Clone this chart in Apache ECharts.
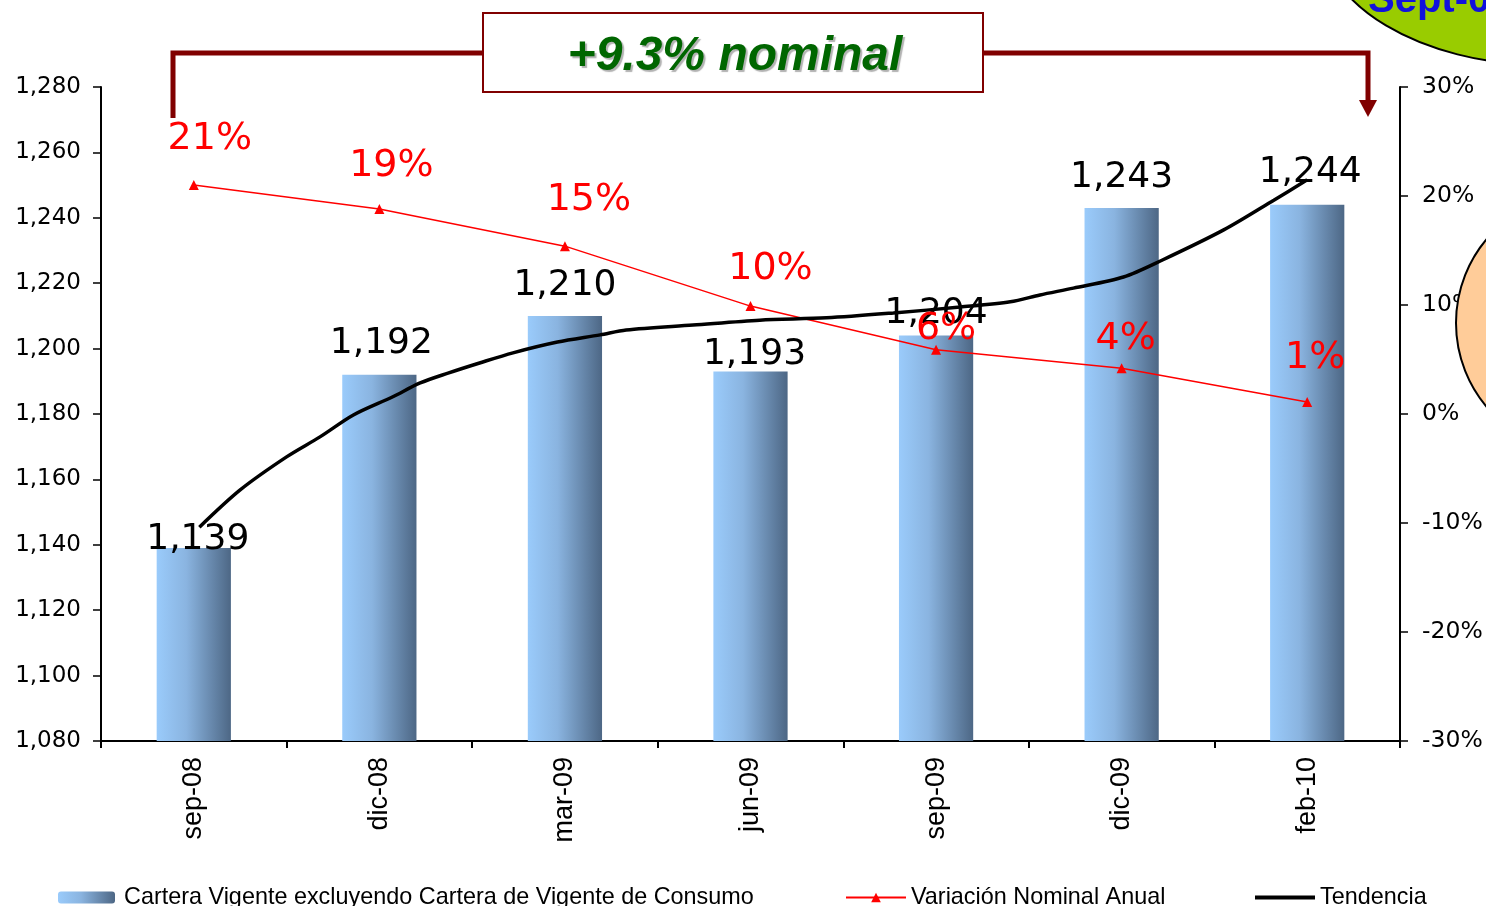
<!DOCTYPE html>
<html>
<head>
<meta charset="utf-8">
<title>Cartera Vigente</title>
<script src="https://cdn.jsdelivr.net/npm/echarts@6/dist/echarts.min.js"></script>
<style>
  html, body { margin: 0; padding: 0; background: #fff; }
  #main { width: 1486px; height: 906px; }
</style>
</head>
<body>
<div id="main"></div>
<script>
// periodos
var categories = ['sep-08', 'dic-08', 'mar-09', 'jun-09', 'sep-09', 'dic-09', 'feb-10'];
// cartera vigente (barras)
var carteraValues = [1139, 1192, 1210, 1193, 1204, 1243, 1244];
// variacion nominal anual (%)
var variacionValues = [21.0, 18.8, 15.4, 9.9, 5.9, 4.2, 1.1];
// tendencia: posicion en el eje (indice de periodo) y valor
var tendenciaX = [0.03, 0.25, 0.50, 0.68, 0.86, 1.07, 1.22, 1.37, 1.54, 1.72, 1.96, 2.19, 2.33, 2.69, 3.05, 3.41, 3.77, 4.13, 4.40, 4.56, 4.74, 5.01, 5.22, 5.55, 5.82, 6.00];
var tendenciaY = [1145.4, 1156.8, 1166.9, 1173.0, 1179.7, 1185.2, 1189.5, 1192.5, 1195.6, 1198.7, 1202.0, 1204.2, 1205.7, 1207.2, 1208.7, 1209.4, 1210.9, 1212.7, 1214.3, 1216.4, 1218.5, 1221.9, 1227.1, 1236.3, 1245.4, 1251.6];
// ejes
var leftMin = 1080, leftMax = 1280, leftStep = 20;
var rightMin = -30, rightMax = 30, rightStep = 10;
var legendNames = ['Cartera Vigente excluyendo Cartera de Vigente de Consumo', 'Variación Nominal Anual', 'Tendencia'];

// ajustes de etiquetas (solo estilo)
var barLabelNudge = [[4, 15], [2, -8], [0, -7], [4, 6], [0, 1], [0, -7], [3, -9]];
var pctLabelNudge = [[16, -17], [12, -14], [24, -17], [20, -8], [10, 8], [4, 0], [8, -15]];

var numFont = 'DejaVu Sans';
var txtFont = 'Liberation Sans';
var darkRed = '#800000';

function miles(v) {
    return String(v).replace(/\B(?=(\d{3})+(?!\d))/g, ',');
}

function barGradient() {
    return new echarts.graphic.LinearGradient(0, 0, 1, 0, [
        { offset: 0, color: '#9acbfb' },
        { offset: 0.4, color: '#8ab4e0' },
        { offset: 1, color: '#4d6785' }
    ]);
}

var chart = echarts.init(document.getElementById('main'));

var barData = [];
for (var i = 0; i < carteraValues.length; i++) {
    barData.push({ value: carteraValues[i], label: { offset: barLabelNudge[i] } });
}
var pctData = [];
for (var j = 0; j < variacionValues.length; j++) {
    pctData.push({ value: variacionValues[j], label: { offset: pctLabelNudge[j] } });
}
var trendData = [];
for (var k = 0; k < tendenciaX.length; k++) {
    trendData.push([tendenciaX[k], tendenciaY[k]]);
}

function legendText(gap) {
    return { fontFamily: txtFont, fontSize: 23.4, color: '#000', padding: [0, 0, 0, gap] };
}

var option = {
    backgroundColor: '#fff',
    animation: false,
    grid: { left: 101, right: 86, top: 87, bottom: 165 },
    legend: [
        {
            data: [legendNames[0]], left: 53, top: 881,
            itemWidth: 57, itemHeight: 12,
            textStyle: legendText(4)
        },
        {
            data: [legendNames[1]], left: 840, top: 881,
            itemWidth: 60, itemHeight: 12,
            textStyle: legendText(0)
        },
        {
            data: [{ name: legendNames[2], icon: 'rect' }], left: 1250, top: 881,
            itemWidth: 60, itemHeight: 4,
            textStyle: legendText(0)
        }
    ],
    xAxis: [
        {
            type: 'category',
            data: categories,
            axisLine: { onZero: false, lineStyle: { color: '#000', width: 2 } },
            axisTick: { show: true, length: 7, lineStyle: { color: '#000', width: 2 } },
            axisLabel: {
                rotate: 90, margin: 16, color: '#000',
                fontFamily: txtFont, fontSize: 27
            }
        },
        {
            type: 'value', min: -0.5, max: 6.5, show: false,
            axisLine: { onZero: false }
        }
    ],
    yAxis: [
        {
            type: 'value',
            min: leftMin, max: leftMax, interval: leftStep,
            splitLine: { show: false },
            axisLine: { show: true, onZero: false, lineStyle: { color: '#000', width: 2 } },
            axisTick: { show: true, length: 8, lineStyle: { color: '#000', width: 1.5 } },
            axisLabel: {
                margin: 20, color: '#000', fontFamily: numFont, fontSize: 23,
                formatter: function (v) { return miles(v); }
            }
        },
        {
            type: 'value',
            min: rightMin, max: rightMax, interval: rightStep,
            splitLine: { show: false },
            axisLine: { show: true, onZero: false, lineStyle: { color: '#000', width: 2 } },
            axisTick: { show: true, length: 8, lineStyle: { color: '#000', width: 1.5 } },
            axisLabel: {
                margin: 22, color: '#000', fontFamily: numFont, fontSize: 23.5,
                formatter: '{value}%'
            }
        }
    ],
    series: [
        {
            name: legendNames[0],
            type: 'bar',
            barWidth: '40%',
            data: barData,
            itemStyle: { color: barGradient() },
            label: {
                show: true, position: 'top', color: '#000',
                fontFamily: numFont, fontSize: 36,
                formatter: function (p) { return miles(p.value); }
            }
        },
        {
            name: legendNames[1],
            type: 'line',
            yAxisIndex: 1,
            data: pctData,
            symbol: 'triangle',
            symbolSize: 10,
            lineStyle: { color: '#ff0000', width: 1.5 },
            itemStyle: { color: '#ff0000' },
            label: {
                show: true, position: 'top', color: '#ff0000',
                fontFamily: numFont, fontSize: 38,
                formatter: function (p) { return Math.round(p.value) + '%'; }
            }
        },
        {
            name: legendNames[2],
            type: 'line',
            xAxisIndex: 1,
            data: trendData,
            symbol: 'none',
            smooth: 0.3,
            lineStyle: { color: '#000', width: 3.5 },
            itemStyle: { color: '#000' }
        }
    ],
    graphic: [
        // flecha de corchete
        {
            type: 'polyline', z: 100,
            shape: { points: [[173, 118], [173, 53], [482, 53]] },
            style: { stroke: darkRed, lineWidth: 5, fill: null }
        },
        {
            type: 'polyline', z: 100,
            shape: { points: [[983, 53], [1368, 53], [1368, 101]] },
            style: { stroke: darkRed, lineWidth: 5, fill: null }
        },
        {
            type: 'polygon', z: 100,
            shape: { points: [[1359, 100], [1377, 100], [1368, 117]] },
            style: { fill: darkRed }
        },
        // recuadro del titulo
        {
            type: 'rect', z: 101,
            shape: { x: 483, y: 13, width: 500, height: 79 },
            style: { fill: '#fff', stroke: darkRed, lineWidth: 2 }
        },
        {
            type: 'text', z: 102,
            x: 735, y: 57,
            style: {
                text: '+9.3% nominal',
                fill: '#006600',
                font: 'italic bold 48px "Liberation Sans"',
                align: 'center', verticalAlign: 'middle',
                textShadowColor: 'rgba(0,0,0,0.3)', textShadowOffsetX: 2, textShadowOffsetY: 2, textShadowBlur: 1
            }
        },
        // elipses que asoman por la derecha
        {
            type: 'ellipse', z: 103,
            shape: { cx: 1545, cy: -70, rx: 225, ry: 135 },
            style: { fill: '#99cc00', stroke: '#000', lineWidth: 2 }
        },
        {
            type: 'text', z: 104,
            x: 1368, y: 1,
            style: {
                text: 'Sept-08',
                fill: '#1111dd',
                font: 'bold 40px "Liberation Sans"',
                align: 'left', verticalAlign: 'middle'
            }
        },
        {
            type: 'circle', z: 103,
            shape: { cx: 1586, cy: 323, r: 130 },
            style: { fill: '#ffcc99', stroke: '#000', lineWidth: 2 }
        }
    ]
};

chart.setOption(option);
</script>
</body>
</html>
